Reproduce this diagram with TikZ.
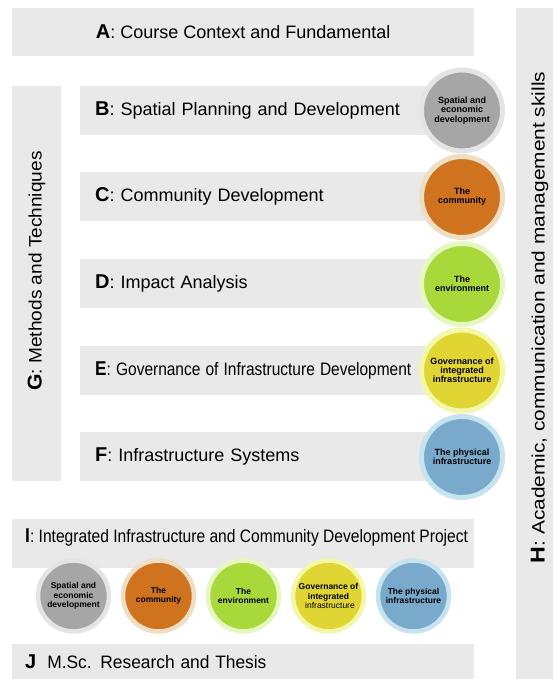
\documentclass[tikz,border=0pt]{standalone}
\usepackage{fontspec}
\usepackage{graphicx}
\setmainfont{Liberation Sans}
\usetikzlibrary{positioning}

\definecolor{bandgray}{HTML}{E9E9E9}
\definecolor{spatialfill}{HTML}{A6A6A6}
\definecolor{spatialring}{HTML}{E4E4E4}
\definecolor{communityfill}{HTML}{D0731F}
\definecolor{communityring}{HTML}{EEDFC4}
\definecolor{environmentfill}{HTML}{A8D83A}
\definecolor{environmentring}{HTML}{E6F7BF}
\definecolor{governancefill}{HTML}{E0D532}
\definecolor{governancering}{HTML}{F3F8A8}
\definecolor{physicalfill}{HTML}{79AACB}
\definecolor{physicalring}{HTML}{C6E3EF}

% bold section letter in front of each title
\newcommand{\secletter}[1]{{\fontsize{20}{20}\selectfont\bfseries #1}}
% squeeze or widen a title along its line
\newcommand{\squeeze}[2]{\scalebox{#1}[1]{#2}}

\tikzset{
	band/.style={fill=bandgray, inner sep=0pt, anchor=south west},
	title/.style={font=\fontsize{18}{20}\selectfont},
	rowband/.style={band, title, minimum width=380pt, minimum height=49pt,
		inner xsep=15pt, text width=350pt, align=left},
	theme/.style={circle, line width=5pt, inner sep=0pt, minimum size=81pt,
		align=center, font=\fontsize{9}{9.2}\selectfont\bfseries},
	smalltheme/.style={theme, line width=4.5pt, minimum size=71pt,
		font=\fontsize{8.5}{9.4}\selectfont\bfseries}
}

\begin{document}
\begin{tikzpicture}[x=1pt, y=1pt]
	
	\useasboundingbox (0,0) rectangle (552,679);
	
	% Course context on top
	\node [band, title,
	minimum width=462pt,
	minimum height=48pt] (A) at (12,623) {\secletter{A}: Course Context and Fundamental};
	
	% Skills column on the right
	\node [band,
	minimum width=40pt,
	minimum height=671pt] (H) at (516,0) {};
	\node [title, rotate=90] (Htext) at (539.5,361.5)
	{\squeeze{1.16}{\secletter{H}: Academic, communication and management skills}};
	
	% Methods column on the left
	\node [band,
	minimum width=49pt,
	minimum height=395pt] (G) at (12,198) {};
	\node [title, rotate=90] (Gtext) at (36.5,408)
	{\squeeze{1.06}{\secletter{G}: Methods and Techniques}};
	
	% Rows B to F
	\node [rowband] (B) at (80,544) {\secletter{B}: Spatial Planning and Development};
	\node [rowband] (C) at (80,458) {\secletter{C}: Community Development};
	\node [rowband] (D) at (80,371) {\secletter{D}: Impact Analysis};
	\node [rowband] (E) at (80,284)
	{\squeeze{0.86}{\secletter{E}: Governance of Infrastructure Development}};
	\node [rowband] (F) at (80,198) {\secletter{F}: Infrastructure Systems};
	
	% Themes at the end of each row
	\node [theme, fill=spatialfill, draw=spatialring] (Bt) at (462,568.5)
	{Spatial and\\economic\\development};
	\node [theme, fill=communityfill, draw=communityring] (Ct) at (462,482)
	{The\\community};
	\node [theme, fill=environmentfill, draw=environmentring] (Dt) at (462,395)
	{The\\environment};
	\node [theme, fill=governancefill, draw=governancering] (Et) at (462,308.5)
	{Governance of\\integrated\\infrastructure};
	\node [theme, fill=physicalfill, draw=physicalring] (Ft) at (462,222)
	{The physical\\infrastructure};
	
	% Project
	\node [band,
	minimum width=462pt,
	minimum height=49pt] (I) at (12,111) {};
	\node [title, anchor=west, inner sep=0pt] (Itext) at (25,142)
	{\squeeze{0.867}{\secletter{I}: Integrated Infrastructure and Community Development Project}};
	
	% Themes again, all together in the project
	\node [smalltheme, fill=spatialfill, draw=spatialring] (It1) at (73.5,83)
	{Spatial and\\economic\\development};
	\node [smalltheme, fill=communityfill, draw=communityring] (It2) at (158.5,83)
	{The\\community};
	\node [smalltheme, fill=environmentfill, draw=environmentring] (It3) at (243.5,83)
	{The\\environment};
	\node [smalltheme, fill=governancefill, draw=governancering] (It4) at (328.5,83)
	{Governance of\\integrated\\\hspace{3pt}{\mdseries infrastructure}};
	\node [smalltheme, fill=physicalfill, draw=physicalring] (It5) at (413.5,83)
	{The physical\\infrastructure};
	
	% Research and thesis
	\node [band, title,
	minimum width=462pt,
	minimum height=35pt,
	inner xsep=13pt,
	text width=436pt,
	align=left] (J) at (12,0) {\secletter{J}\hspace{11pt}\squeeze{0.965}{M.Sc. Research and Thesis}};
	
\end{tikzpicture}
\end{document}
